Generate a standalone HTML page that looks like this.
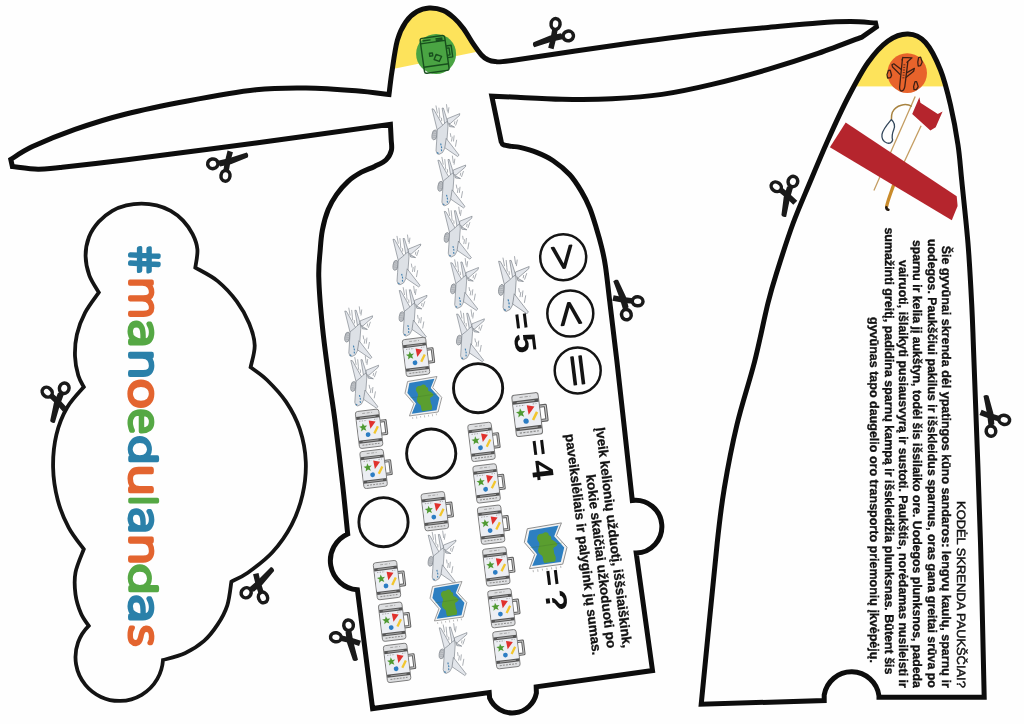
<!DOCTYPE html>
<html lang="lt"><head><meta charset="utf-8"><title>#manoedulandas</title>
<style>html,body{margin:0;padding:0;background:#fefefe}svg{display:block;will-change:transform}text{text-rendering:geometricPrecision}text{font-family:"Liberation Sans",sans-serif}.b{font-weight:bold}.sy{font-family:"DejaVu Sans Light","DejaVu Sans",sans-serif;font-weight:200}.logo text{font-family:"DejaVu Sans Light","DejaVu Sans",sans-serif;font-weight:200;font-size:40px;stroke-width:3.9;stroke-linejoin:round;stroke-linecap:round}</style></head><body>
<svg width="1024" height="724" viewBox="0 0 1024 724">
<rect width="1024" height="724" fill="#fefefe"/>
<defs>
<symbol id="pl" overflow="visible"><g stroke="#6f757d" stroke-width="0.6" stroke-linejoin="round"><ellipse cx="2.5" cy="30.3" rx="2.5" ry="5" fill="#c3c6ca" transform="rotate(8 2.5 30.3)"/><path d="M0 4.2L1.6 4.5L12.3 23.5L5.3 25.7Z" fill="#e3e6eb"/><path d="M10.1 3.5L11.4 3.5L15.5 16.7L12.8 19.6Z" fill="#e3e6eb"/><path d="M15.3 14.1L27.8 9L27.4 11L18.1 19.1L15.3 18.2Z" fill="#e3e6eb"/><path d="M16.7 19.3L22.6 22.6L17.6 22Z" fill="#d2d6db"/><path d="M15.5 16.6L16 21.5L15.1 33.8L13.2 43L10.5 48L7 49.8L5.1 49.1L4 46.1L4.6 37.3L5.3 25L9.7 21.5L13.2 18.2Z" fill="#dde1e6"/><path d="M14.2 33.8L27.1 50.5L25.6 51.9L12.8 43.1Z" fill="#e3e6eb"/></g><path d="M4 1.3L5.3 8.3M6.9 3.5L7.5 9.7M14.5 0L15.4 6.6M16.9 3.1L16.2 8.3M7.5 10.5L7.9 13.2M9.5 13.6L9.7 16.2M25.5 15.4L23.7 20.6M22.8 17.1L22.4 19.3M18.4 29L18.9 32.1M20.2 32.5L19.5 36.5M22.1 31.2L21.5 36.5M24.6 35.6L23.5 41.7" stroke="#7f858d" stroke-width="0.65" fill="none" stroke-linecap="round"/><path d="M0.9 27.7L4 26.8M0.5 29.4L4.2 28.7M0.5 31.2L4.4 30.7M0.9 32.9L4.6 32.4" stroke="#8d929a" stroke-width="0.4" fill="none"/><path d="M8.6 38.9L9.1 40.7M9.3 41.7L9.7 43.5M9.3 44.8L9.7 46.6M5.1 47.9L6.5 48.9" stroke="#3f7fb0" stroke-width="1.1" fill="none"/></symbol>
<symbol id="su" overflow="visible">
<g transform="rotate(-7)">
<path d="M11.4 -6.2H17V6.8H11.4" fill="none" stroke="#5e5e5e" stroke-width="2.9" stroke-linejoin="round"/>
<path d="M11.4 -6.2H17V6.8H11.4" fill="none" stroke="#cfcfcf" stroke-width="0.9" stroke-linejoin="round"/>
<rect x="-11.8" y="-18.6" width="23.6" height="37.2" rx="2.4" fill="#dedfe1" stroke="#777" stroke-width="0.9"/>
<rect x="-11.2" y="-10.4" width="22.4" height="21.6" fill="#eceef3"/>
<rect x="-11.5" y="-13.2" width="23" height="3" fill="#555"/>
<rect x="-11.5" y="10.6" width="23" height="3" fill="#555"/>
<path d="M-8 -11.7H8M-8 12.1H8" stroke="#bdbdbd" stroke-width="0.7"/>
<path d="M-8.6 15.6H8.6" stroke="#8a8a8a" stroke-width="1" stroke-dasharray="2 1.1"/>
<path d="M-5 -16H5" stroke="#9a9a9a" stroke-width="0.8" stroke-dasharray="3 1.5"/>
<path d="M-9 -8.6H-1M6 -8.8H9.4" stroke="#8f8f8f" stroke-width="0.7" stroke-dasharray="1.4 1.2"/>
<path d="M0.6 -8.3L7.3 -6.4L1.3 0.2Z" fill="#e0312d"/>
<path d="M-5.7 -6.3L-4.5 -3.5L-1.5 -3.5L-3.8 -1.5L-2.9 1.5L-5.6 -0.1L-8.2 1.6L-7.4 -1.4L-9.7 -3.3L-6.7 -3.6Z" fill="#4f9a32"/>
<circle cx="-1.7" cy="5.7" r="2.4" fill="#2c7dc4"/>
<path d="M9 -1.4L4.6 5.4" stroke="#f2c62e" stroke-width="2.3" fill="none"/>
</g>
</symbol>
<symbol id="mp" overflow="visible">
<g transform="rotate(-7)">
<path d="M-14.6 -17.4L15.2 -18.8L9.6 -8.4L17.4 2.6L12 16.6L-17 17L-11 5.4L-18.6 -6Z" fill="#f3f3f3" stroke="#8b8b8b" stroke-width="0.8" stroke-linejoin="round"/>
<path d="M-13 -15.6L12.4 -16.8L7.6 -8.2L15 2.6L10.6 14.6L-14.4 15L-9 5.4L-16.2 -6Z" fill="#2d7fc1"/>
<path d="M-6.4 -10.6C-4.6 -12.4 -2.4 -11 -0.8 -12.2C1.4 -13 3.6 -11.6 3 -9.6C4.8 -9.2 5.4 -7.6 4.6 -6C6.6 -4.4 9.4 -3.2 9.4 -0.6C8.4 1 6.2 0.6 5.4 2.4C6.4 4.4 5.2 6 6.2 8C7.2 10.2 6.4 12 5.8 13.6L-3.6 13.8C-5 11.6 -3.6 9.4 -4.8 7.2C-6.6 5.4 -8.4 3.6 -7.4 1C-6.4 -1.2 -5.2 -2.6 -6.2 -4.8C-7.4 -6.8 -7.8 -8.8 -6.4 -10.6Z" fill="#5a9e2f"/>
<path d="M-14 -0.8L13.6 -1.6" stroke="#3b6f2a" stroke-width="0.4" fill="none" opacity="0.6"/>
<path d="M-14 18.6V20.4M-10 18.4V20.6M-6 18.4V20M-2 18.2V20.4M2 18.2V20M6 18V20.2M10 17.8V19.6" stroke="#9a9a9a" stroke-width="0.6"/>
</g>
</symbol>
<symbol id="sc" overflow="visible">
<ellipse cx="-14" cy="-2.6" rx="5.2" ry="4.8" transform="rotate(8 -14 -2.6)" fill="none" stroke="#1a1a1a" stroke-width="3.5"/>
<ellipse cx="-5.8" cy="12.8" rx="4.5" ry="5.4" transform="rotate(26 -5.8 12.8)" fill="none" stroke="#1a1a1a" stroke-width="3.5"/>
<path d="M-9.6 -4L-8 2.2L3 3.6L21 2.6C22.4 1.6 22.8 -0.4 21.8 -2.4L3 -2.8Z" fill="#1a1a1a"/>
<path d="M-6.6 8L-1.4 9.8L4.4 -0.6L8.8 -7.2L4.2 -10.4L-2.4 0Z" fill="#1a1a1a"/>
</symbol>
<clipPath id="cb"><path d="M10.8 159.4C14.4 157.3 21.8 151.6 32.5 146.6C43.2 141.6 59.6 134.8 75 129.4C90.4 124 106.2 118.9 125 114.2C143.8 109.5 165.7 105.1 187.5 101C209.3 96.9 236.2 92 256 89.8C275.8 87.6 289.3 87.8 306 88C322.7 88.2 342.2 89.7 356 90.8C369.8 91.9 383.5 93.9 389 94.5C389.5 90.7 390.5 81 391.9 71.9C393.3 62.8 395.1 48.4 397.4 40.1C399.7 31.8 402.5 26.8 405.7 22.1C408.9 17.4 412.9 14 416.8 11.7C420.7 9.3 424.8 8.2 429.2 8C433.6 7.8 438.9 8.7 443 10.4C447.1 12.1 450.6 14.9 454.1 18C457.6 21.1 460.6 24.6 463.8 29C467 33.4 470.4 39.8 473.4 44.2C476.4 48.6 479.4 52.8 481.7 55.3C484 57.8 485.1 58.4 487.3 59.4C489.5 60.4 490.9 61.2 495 61.4C499.1 61.6 492.5 63 512 60.4C531.5 57.8 578.7 50.4 612 45.8C645.3 41.2 686 35.8 712 32.8C738 29.7 750.3 29.1 768 27.5C785.7 25.9 804.2 24 818 23C831.8 22 840.9 21.6 850.5 21.6C860.1 21.6 871.3 22.8 875.5 23L876.4 27L862.4 36.8C855 39.6 833.7 48 818 53.4C802.3 58.8 785.7 64.2 768 69.4C750.3 74.6 729.7 80.2 712 84.4C694.3 88.6 678.7 92 662 94.4C645.3 96.8 628.7 97.9 612 98.8C595.3 99.6 578.7 99.5 562 99.2C545.3 99 523.7 97.5 512 97C500.3 96.5 495.2 96.3 491.8 96.2L501.2 141.6C501.6 142.1 501.6 144 503.4 144.8C505.2 145.6 509.2 146 512 146.4C514.8 146.8 515.9 146.4 520 147.4C524.1 148.4 531.1 150.2 536.6 152.4C542.1 154.6 547.7 157 553.2 160.7C558.7 164.4 565.1 169.7 569.8 174.8C574.5 179.9 578.1 185.9 581.4 191.4C584.7 196.9 587.2 201.9 589.7 208C592.2 214.1 594.3 221.4 596.3 227.9C598.3 234.4 600.1 240.7 601.6 247C603.1 253.3 604 256.6 605.4 265.8C606.8 275 607.9 286 609.8 302C611.7 318 613.2 328.9 617 362C620.8 395.1 629.8 477.3 632.3 500.4A26.4 26.4 0 1 1 636.2 553L652.5 670.5L536.2 686.8L536.4 693A24.6 24.6 0 0 1 489.6 698L489.2 692.6L372.6 708.6L357.4 589.8A29.2 29.2 0 0 1 347.7 534C346.8 525.6 344.6 502.3 342.5 483.5C340.4 464.7 337.3 438.7 335 421C332.7 403.3 330.8 393.1 328.8 377.5C326.7 361.9 324.2 344.2 322.5 327.5C320.8 310.8 319.1 290.4 318.8 277.5C318.4 264.6 319.6 257.9 320.2 250C320.8 242.1 321.1 236.8 322.4 230C323.7 223.2 325.8 215.4 328.2 209.5C330.6 203.6 333.2 199.3 336.5 194.6C339.8 189.9 344 185 348.1 181.3C352.2 177.6 357 174.7 361.4 172.2C365.8 169.7 370.5 168.5 374.6 166.4C378.7 164.3 383.4 162.4 386.2 159.7C389 157 390.6 153.7 391.4 150.4C392.2 147.1 391.4 144.2 391.2 139.8C391 135.5 390.5 126.9 390.4 124.3C368 127.4 300.2 137.1 256 143C211.8 148.9 157.7 155.9 125 160C92.3 164.1 74.5 165.9 60 167.4C45.5 168.9 45.9 169.3 38 169.2C30.1 169.1 16.7 167 12.4 166.6Z"/></clipPath>
<clipPath id="cr"><path d="M701.2 704.2C703.9 677.3 713.4 579.2 717.2 543C721.1 506.8 721.2 506.8 724.5 487C727.8 467.2 732 445.3 737 424.5C742 403.7 749.3 382.2 754.5 362C759.7 341.8 764.1 318.6 768 303C771.9 287.4 773.8 281.8 778 268.5C782.2 255.2 787.6 238.1 793 223.5C798.4 208.9 804.7 194.9 810.5 181C816.3 167.1 821.8 153.9 828 140C834.2 126.1 841.3 110.4 848 97.5C854.7 84.6 861.3 71.9 868 62.5C874.7 53.1 881.3 45.8 888 41C894.7 36.2 901.8 33.8 908 34C914.2 34.2 920.1 36.5 925.5 42.5C930.9 48.5 936.3 59.6 940.5 70C944.7 80.4 947.6 92.5 950.5 105C953.4 117.5 956.1 132.3 958 145C959.9 157.7 960.1 164.6 961.8 181C963.4 197.4 966.3 222.7 968 243.5C969.7 264.3 970.8 286.2 971.8 306C972.8 325.8 972.5 322.5 974 362C975.5 401.5 978.8 487.1 980.5 543C982.2 598.9 983.6 671.6 984.2 697.3L879 697.3L879 696A27.7 27.7 0 0 0 824.2 695L824.2 700.6Z"/></clipPath>
</defs>
<g clip-path="url(#cb)"><path d="M380 0H500V47L474.8 52.2L394 68.7L380 71Z" fill="#fde35b"/></g>
<g clip-path="url(#cr)"><rect x="840" y="20" width="140" height="66.4" fill="#fde35b"/></g>
<circle cx="436.1" cy="53.9" r="20" fill="#4aa443"/>
<g transform="translate(434.6 54.4) rotate(-8)" fill="none" stroke="#174f1d" stroke-width="1.4" stroke-linejoin="round"><rect x="-12.4" y="-17.6" width="24.8" height="35.2" rx="2.2"/><path d="M-12.4 -12.4H12.4M-12.4 11.2H12.4M-10 -15H-2M3 -15.2H10M3 -13.6H10"/><path d="M12.4 -6.8H17.6V5H12.4M12.4 -4.4H15.2V2.6H12.4"/><rect x="-5" y="-1.8" width="3" height="3"/><path d="M1.6 0.2L6.6 3L3.6 7.6L-1.2 5Z"/></g>
<circle cx="907.2" cy="73.1" r="19.8" fill="#e8632b"/>
<g fill="none" stroke="#3f2015" stroke-width="1.3" stroke-linejoin="round" stroke-linecap="round"><path d="M902.4 59.2L899.6 87C899.4 89.6 900.6 91.2 901.6 91C902.8 90.8 904.4 88.6 904.8 86.6L907.8 62.4"/><path d="M902.8 57.4L912 57.8L907 62.2M902.8 57.4L902.2 60"/><path d="M901.6 69.8L893.8 63.8L892 64.8L892.6 67L900 74.4"/><path d="M907 72.6L914.4 68.4L913.6 71.2L906.2 77.2"/><path d="M903.8 64.8H905M903.6 67.4H904.8M903.4 70H904.6M903.2 72.6H904.4M903 75.2H904.2M902.8 77.8H904"  stroke-width="0.8"/><path d="M887 74.6L888.4 70.4L890.2 70.2L891.6 75.2L890.6 77.6L887.6 78Z"/><path d="M917.8 62.2L918.6 57.6L920.6 57.2L922.2 62L920.6 65.6L918.2 66Z"/><path d="M913.6 86.6L915 81.6L916.6 81.6L918.2 86.6L916.4 89.6L914 89.6Z"/></g>
<g clip-path="url(#cr)">
<path d="M915.2 96.6L873.9 190.4" stroke="#c39c60" stroke-width="1.3" fill="none"/>
<path d="M921.1 125.7L892.9 186.2" stroke="#c39c60" stroke-width="1.3" fill="none"/>
<path d="M911.8 106.3C906 103 896 104.6 892.4 112.2C891.2 115 891.6 118 891.4 120" stroke="#a88340" stroke-width="1.5" fill="none"/>
<path d="M891.3 119.6C894.6 122.6 895.4 125.6 893.8 129.6C892.4 133 891.6 136.6 892.6 140C892 142.8 889.6 143.8 887 143C883.6 141.8 881.4 138.6 882 134.4C882.8 129.4 886.4 125.4 891.3 119.6Z" stroke="#33475b" stroke-width="1.3" fill="#fefefe" stroke-linejoin="round"/>
<path d="M893.4 185.6C891 192.6 888 200 886.6 206.4" stroke="#c98b2b" stroke-width="3.3" fill="none" stroke-linecap="round"/>
<path d="M886.3 207.4C886.4 208.6 887.2 209.6 888.4 209.8" stroke="#241a12" stroke-width="2.6" fill="none" stroke-linecap="round"/>
<path d="M919.4 97.3L912.2 113.9L930.4 130.5L935.7 127.3L942.6 111.5L937.8 113.9L920.4 102.8Z" fill="#b5252d"/>
<path d="M845.7 122.4L956.7 196.2L957.6 206.1L951.8 220.2L829.9 147.3Z" fill="#b5252d"/>
</g>
<path d="M10.8 159.4C14.4 157.3 21.8 151.6 32.5 146.6C43.2 141.6 59.6 134.8 75 129.4C90.4 124 106.2 118.9 125 114.2C143.8 109.5 165.7 105.1 187.5 101C209.3 96.9 236.2 92 256 89.8C275.8 87.6 289.3 87.8 306 88C322.7 88.2 342.2 89.7 356 90.8C369.8 91.9 383.5 93.9 389 94.5C389.5 90.7 390.5 81 391.9 71.9C393.3 62.8 395.1 48.4 397.4 40.1C399.7 31.8 402.5 26.8 405.7 22.1C408.9 17.4 412.9 14 416.8 11.7C420.7 9.3 424.8 8.2 429.2 8C433.6 7.8 438.9 8.7 443 10.4C447.1 12.1 450.6 14.9 454.1 18C457.6 21.1 460.6 24.6 463.8 29C467 33.4 470.4 39.8 473.4 44.2C476.4 48.6 479.4 52.8 481.7 55.3C484 57.8 485.1 58.4 487.3 59.4C489.5 60.4 490.9 61.2 495 61.4C499.1 61.6 492.5 63 512 60.4C531.5 57.8 578.7 50.4 612 45.8C645.3 41.2 686 35.8 712 32.8C738 29.7 750.3 29.1 768 27.5C785.7 25.9 804.2 24 818 23C831.8 22 840.9 21.6 850.5 21.6C860.1 21.6 871.3 22.8 875.5 23L876.4 27L862.4 36.8C855 39.6 833.7 48 818 53.4C802.3 58.8 785.7 64.2 768 69.4C750.3 74.6 729.7 80.2 712 84.4C694.3 88.6 678.7 92 662 94.4C645.3 96.8 628.7 97.9 612 98.8C595.3 99.6 578.7 99.5 562 99.2C545.3 99 523.7 97.5 512 97C500.3 96.5 495.2 96.3 491.8 96.2L501.2 141.6C501.6 142.1 501.6 144 503.4 144.8C505.2 145.6 509.2 146 512 146.4C514.8 146.8 515.9 146.4 520 147.4C524.1 148.4 531.1 150.2 536.6 152.4C542.1 154.6 547.7 157 553.2 160.7C558.7 164.4 565.1 169.7 569.8 174.8C574.5 179.9 578.1 185.9 581.4 191.4C584.7 196.9 587.2 201.9 589.7 208C592.2 214.1 594.3 221.4 596.3 227.9C598.3 234.4 600.1 240.7 601.6 247C603.1 253.3 604 256.6 605.4 265.8C606.8 275 607.9 286 609.8 302C611.7 318 613.2 328.9 617 362C620.8 395.1 629.8 477.3 632.3 500.4A26.4 26.4 0 1 1 636.2 553L652.5 670.5L536.2 686.8L536.4 693A24.6 24.6 0 0 1 489.6 698L489.2 692.6L372.6 708.6L357.4 589.8A29.2 29.2 0 0 1 347.7 534C346.8 525.6 344.6 502.3 342.5 483.5C340.4 464.7 337.3 438.7 335 421C332.7 403.3 330.8 393.1 328.8 377.5C326.7 361.9 324.2 344.2 322.5 327.5C320.8 310.8 319.1 290.4 318.8 277.5C318.4 264.6 319.6 257.9 320.2 250C320.8 242.1 321.1 236.8 322.4 230C323.7 223.2 325.8 215.4 328.2 209.5C330.6 203.6 333.2 199.3 336.5 194.6C339.8 189.9 344 185 348.1 181.3C352.2 177.6 357 174.7 361.4 172.2C365.8 169.7 370.5 168.5 374.6 166.4C378.7 164.3 383.4 162.4 386.2 159.7C389 157 390.6 153.7 391.4 150.4C392.2 147.1 391.4 144.2 391.2 139.8C391 135.5 390.5 126.9 390.4 124.3C368 127.4 300.2 137.1 256 143C211.8 148.9 157.7 155.9 125 160C92.3 164.1 74.5 165.9 60 167.4C45.5 168.9 45.9 169.3 38 169.2C30.1 169.1 16.7 167 12.4 166.6Z" fill="none" stroke="#0d0d0d" stroke-width="5" stroke-linejoin="miter"/>
<path d="M701.2 704.2C703.9 677.3 713.4 579.2 717.2 543C721.1 506.8 721.2 506.8 724.5 487C727.8 467.2 732 445.3 737 424.5C742 403.7 749.3 382.2 754.5 362C759.7 341.8 764.1 318.6 768 303C771.9 287.4 773.8 281.8 778 268.5C782.2 255.2 787.6 238.1 793 223.5C798.4 208.9 804.7 194.9 810.5 181C816.3 167.1 821.8 153.9 828 140C834.2 126.1 841.3 110.4 848 97.5C854.7 84.6 861.3 71.9 868 62.5C874.7 53.1 881.3 45.8 888 41C894.7 36.2 901.8 33.8 908 34C914.2 34.2 920.1 36.5 925.5 42.5C930.9 48.5 936.3 59.6 940.5 70C944.7 80.4 947.6 92.5 950.5 105C953.4 117.5 956.1 132.3 958 145C959.9 157.7 960.1 164.6 961.8 181C963.4 197.4 966.3 222.7 968 243.5C969.7 264.3 970.8 286.2 971.8 306C972.8 325.8 972.5 322.5 974 362C975.5 401.5 978.8 487.1 980.5 543C982.2 598.9 983.6 671.6 984.2 697.3L879 697.3L879 696A27.7 27.7 0 0 0 824.2 695L824.2 700.6Z" fill="none" stroke="#0d0d0d" stroke-width="5" stroke-linejoin="miter"/>
<path d="M98.8 292.4C97.2 289.6 91.6 281.6 89.4 275.6C87.2 269.6 85.7 262.7 85.6 256.3C85.5 249.9 86.8 242.8 89 237C91.2 231.2 94.8 226.2 98.7 221.8C102.6 217.5 107.7 213.6 112.3 210.9C116.9 208.2 121.4 206.6 126.3 205.4C131.2 204.2 136.4 203.6 141.5 203.6C146.6 203.6 151.8 204.2 156.7 205.4C161.6 206.6 166.3 208.4 170.7 210.9C175.1 213.4 179.4 216.7 183.1 220.6C186.8 224.5 190.2 229.4 192.6 234.2C195 239 196.9 243.8 197.4 249.4C197.9 255 195.7 264.6 195.3 267.6C199 269.9 210.8 275.4 217.7 281.1C224.6 286.8 231.7 294.5 236.9 301.6C242.2 308.7 246.2 316.2 249.2 323.5C252.2 330.8 254.5 338.1 254.7 345.4C254.9 352.7 251.3 363.6 250.6 367.3C253.3 369.4 261.1 374.2 267 380C272.9 385.8 280.6 393.7 286.1 401.9C291.6 410.1 296.5 419.2 299.8 429.2C303.1 439.2 305.4 451.1 305.8 462C306.2 472.9 304.9 484.3 302.5 494.8C300.1 505.3 296.6 515.3 291.6 524.9C286.6 534.5 279.7 544.3 272.4 552.3C265.1 560.3 254.6 567.9 247.8 572.8C241 577.7 234.1 580.1 231.4 581.6C230.7 585.5 229.6 598.2 227.3 605.3C225 612.4 221.6 618.5 217.7 624.4C213.8 630.3 209.6 636.1 204.1 640.9C198.6 645.7 191.8 650 184.9 653.2C178.1 656.4 166.7 658.9 163 660A43.8 43.8 0 1 1 88.7 625.8C87.4 623.8 83.2 618.7 81 613.5C78.8 608.3 76.4 601.2 75.5 594.4C74.6 587.6 74.1 580 75.5 572.5C76.9 565 82.4 553.1 83.8 549.2C81.2 545.6 73 535.9 68.7 527.7C64.4 519.6 60.4 510.3 57.8 500.3C55.2 490.3 53.3 478.4 53.1 467.5C52.9 456.6 54 444.7 56.4 434.7C58.8 424.7 62.7 415.2 67.3 407.3C71.9 399.4 81 390.4 83.8 387C82.8 385.1 79.8 380.6 78.3 375.5C76.8 370.4 75.2 363.1 75 356.3C74.8 349.5 75.2 341.8 76.9 334.5C78.6 327.2 81.4 319.6 85.1 312.6C88.8 305.6 96.5 295.8 98.8 292.4Z" fill="none" stroke="#141414" stroke-width="3.8" stroke-linejoin="miter"/>
<use href="#pl" x="432" y="104.6"/>
<use href="#pl" x="437.9" y="156"/>
<use href="#pl" x="444.3" y="207.2"/>
<use href="#pl" x="450.7" y="258.5"/>
<use href="#pl" x="456.6" y="309.8"/>
<use href="#pl" x="393" y="235"/>
<use href="#pl" x="399.2" y="286.3"/>
<use href="#pl" x="344.8" y="306.8"/>
<use href="#pl" x="350.8" y="356.2"/>
<use href="#pl" x="428.2" y="531"/>
<use href="#pl" x="439.2" y="623.6"/>
<g transform="translate(498.6 256.6) scale(1.1)"><use href="#pl"/></g>
<use href="#su" x="416" y="356.9"/>
<use href="#su" x="369.1" y="428.8"/>
<use href="#su" x="373.6" y="468.9"/>
<use href="#su" x="434.8" y="511.2"/>
<use href="#su" x="387" y="580.1"/>
<use href="#su" x="392.2" y="621.7"/>
<use href="#su" x="397.1" y="662.9"/>
<use href="#su" x="481.5" y="441.9"/>
<use href="#su" x="486.6" y="483.4"/>
<use href="#su" x="491.1" y="524.7"/>
<use href="#su" x="496.3" y="566.5"/>
<use href="#su" x="501.4" y="608.2"/>
<use href="#su" x="506.4" y="649.2"/>
<g transform="translate(527.2 414.6) scale(1.12)"><use href="#su"/></g>
<use href="#mp" x="424.2" y="397"/>
<use href="#mp" x="449.2" y="602"/>
<g transform="translate(546.6 546.7) scale(1.16)"><use href="#mp"/></g>
<circle cx="478.1" cy="388.2" r="24.6" fill="none" stroke="#141414" stroke-width="2.9"/>
<circle cx="431.2" cy="453.6" r="24.6" fill="none" stroke="#141414" stroke-width="2.9"/>
<circle cx="383.5" cy="522.2" r="24.6" fill="none" stroke="#141414" stroke-width="2.9"/>
<circle cx="563.2" cy="257.2" r="23" fill="none" stroke="#141414" stroke-width="2.5"/>
<circle cx="570.3" cy="313.5" r="23" fill="none" stroke="#141414" stroke-width="2.5"/>
<circle cx="577.7" cy="370.4" r="23" fill="none" stroke="#141414" stroke-width="2.5"/>
<text class="sy" transform="translate(563.2 257.2) rotate(83) scale(0.86 1)" font-size="40" text-anchor="middle" x="0" y="12.7" fill="#141414" stroke="#141414" stroke-width="2" stroke-linejoin="round">&gt;</text>
<text class="sy" transform="translate(570.3 313.5) rotate(83) scale(0.86 1)" font-size="40" text-anchor="middle" x="0" y="12.7" fill="#141414" stroke="#141414" stroke-width="2" stroke-linejoin="round">&lt;</text>
<text class="sy" transform="translate(577.7 370.4) rotate(83) scale(1.12 1.3)" font-size="40" text-anchor="middle" x="0" y="12.5" fill="#141414" stroke="#141414" stroke-width="1.2" stroke-linejoin="round">=</text>
<g class="b" transform="translate(511.2 314) rotate(83)" font-size="30" fill="#111"><text x="0" y="0" font-size="28">=</text><text transform="translate(20.5 0) scale(1.2 1)" x="0" y="0">5</text></g>
<g class="b" transform="translate(528.6 440.6) rotate(83)" font-size="30" fill="#111"><text x="0" y="0" font-size="28">=</text><text transform="translate(20.5 0) scale(1.2 1)" x="0" y="0">4</text></g>
<g class="b" transform="translate(542.2 570.6) rotate(83)" font-size="30" fill="#111"><text x="0" y="0" font-size="28">=</text><text transform="translate(20.5 0) scale(1.2 1)" x="0" y="0">?</text></g>
<g class="b" transform="translate(596.3 428) rotate(83)" font-size="13.4" fill="#111" stroke="#111" stroke-width="0.3">
<text x="0" y="0.5" textLength="221.8" lengthAdjust="spacingAndGlyphs">Įveik kelionių užduotį, iššsiaiškink,</text>
<text x="45.5" y="16" textLength="174.8" lengthAdjust="spacingAndGlyphs">kokie skaičiai užkoduoti po</text>
<text x="2.7" y="31.5" textLength="222.7" lengthAdjust="spacingAndGlyphs">paveikslėliais ir palygink jų sumas.</text>
</g>
<text transform="translate(956.6 501.1) rotate(90)" font-size="12" fill="#111" stroke="#111" stroke-width="0.45" textLength="186.7" lengthAdjust="spacingAndGlyphs">KODĖL SKRENDA PAUKŠČIAI?</text>
<text class="b" transform="translate(942 245.7) rotate(90)" font-size="12.5" fill="#111" stroke="#111" stroke-width="0.35" textLength="442.1" lengthAdjust="spacingAndGlyphs">Šie gyvūnai skrenda dėl ypatingos kūno sandaros: lengvų kaulų, sparnų ir</text>
<text class="b" transform="translate(927.5 239) rotate(90)" font-size="12.5" fill="#111" stroke="#111" stroke-width="0.35" textLength="448.8" lengthAdjust="spacingAndGlyphs">uodegos. Paukščiui pakilus ir išskleidus sparnus, oras gana greitai srūva po</text>
<text class="b" transform="translate(913.1 239.9) rotate(90)" font-size="12.5" fill="#111" stroke="#111" stroke-width="0.35" textLength="447.9" lengthAdjust="spacingAndGlyphs">sparnu ir kelia jį aukštyn, todėl šis išsilaiko ore. Uodegos plunksnos, padeda</text>
<text class="b" transform="translate(898.9 260.1) rotate(90)" font-size="12.5" fill="#111" stroke="#111" stroke-width="0.35" textLength="427.7" lengthAdjust="spacingAndGlyphs">vairuoti, išlaikyti pusiausvyrą ir sustoti. Paukštis, norėdamas nusileisti ir</text>
<text class="b" transform="translate(884.5 227.4) rotate(90)" font-size="12.5" fill="#111" stroke="#111" stroke-width="0.35" textLength="447.1" lengthAdjust="spacingAndGlyphs">sumažinti greitį, padidina sparnų kampą ir išskleidžia plunksnas. Būtent šis</text>
<text class="b" transform="translate(870.4 317) rotate(90)" font-size="12.5" fill="#111" stroke="#111" stroke-width="0.35" textLength="345.9" lengthAdjust="spacingAndGlyphs">gyvūnas tapo daugelio oro transporto priemonių įkvėpėjų.</text>
<g class="logo">
<text transform="translate(129.6 262.2) rotate(90) scale(0.924 1) skewX(11)" text-anchor="middle" vector-effect="non-scaling-stroke" fill="#2a80a9" stroke="#2a80a9">#</text>
<text transform="translate(129.6 298.2) rotate(90) scale(1.098 1)" text-anchor="middle" vector-effect="non-scaling-stroke" fill="#e3642f" stroke="#e3642f">m</text>
<text transform="translate(129.6 333.8) rotate(90) scale(1.205 1)" text-anchor="middle" vector-effect="non-scaling-stroke" fill="#55a844" stroke="#55a844">a</text>
<text transform="translate(129.6 364.2) rotate(90) scale(1.241 1)" text-anchor="middle" vector-effect="non-scaling-stroke" fill="#2a80a9" stroke="#2a80a9">n</text>
<text transform="translate(129.6 393.9) rotate(90) scale(1.293 1)" text-anchor="middle" vector-effect="non-scaling-stroke" fill="#e3642f" stroke="#e3642f">o</text>
<text transform="translate(129.6 421.4) rotate(90) scale(1.089 1)" text-anchor="middle" vector-effect="non-scaling-stroke" fill="#55a844" stroke="#55a844">e</text>
<text transform="translate(129.6 450.1) rotate(90) scale(1.220 0.9)" text-anchor="middle" vector-effect="non-scaling-stroke" fill="#2a80a9" stroke="#2a80a9">d</text>
<text transform="translate(129.6 480.1) rotate(90) scale(1.298 1)" text-anchor="middle" vector-effect="non-scaling-stroke" fill="#e3642f" stroke="#e3642f">u</text>
<text transform="translate(129.6 500.8) rotate(90) scale(1.000 0.9)" text-anchor="middle" vector-effect="non-scaling-stroke" fill="#55a844" stroke="#55a844">l</text>
<text transform="translate(129.6 520.8) rotate(90) scale(1.145 1)" text-anchor="middle" vector-effect="non-scaling-stroke" fill="#2a80a9" stroke="#2a80a9">a</text>
<text transform="translate(129.6 549.4) rotate(90) scale(1.280 1)" text-anchor="middle" vector-effect="non-scaling-stroke" fill="#e3642f" stroke="#e3642f">n</text>
<text transform="translate(129.6 579.2) rotate(90) scale(1.295 0.9)" text-anchor="middle" vector-effect="non-scaling-stroke" fill="#55a844" stroke="#55a844">d</text>
<text transform="translate(129.6 608.6) rotate(90) scale(1.220 1)" text-anchor="middle" vector-effect="non-scaling-stroke" fill="#2a80a9" stroke="#2a80a9">a</text>
<text transform="translate(129.6 635.9) rotate(90) scale(1.106 1)" text-anchor="middle" vector-effect="non-scaling-stroke" fill="#e3642f" stroke="#e3642f">s</text>
</g>
<use href="#sc" transform="translate(226.9 161.8) rotate(-18.6)"/>
<use href="#sc" transform="translate(554.2 38) rotate(161.2)"/>
<use href="#sc" transform="translate(623.6 300.7) rotate(-111.8)"/>
<use href="#sc" transform="translate(787.8 194.8) rotate(100.5)"/>
<use href="#sc" transform="translate(990.5 416.9) rotate(-102.4)"/>
<use href="#sc" transform="translate(58.1 401.1) rotate(104.9)"/>
<use href="#sc" transform="translate(257.7 584.4) rotate(-46.5)"/>
<use href="#sc" transform="translate(349.8 639.4) rotate(74.4)"/>
</svg></body></html>
